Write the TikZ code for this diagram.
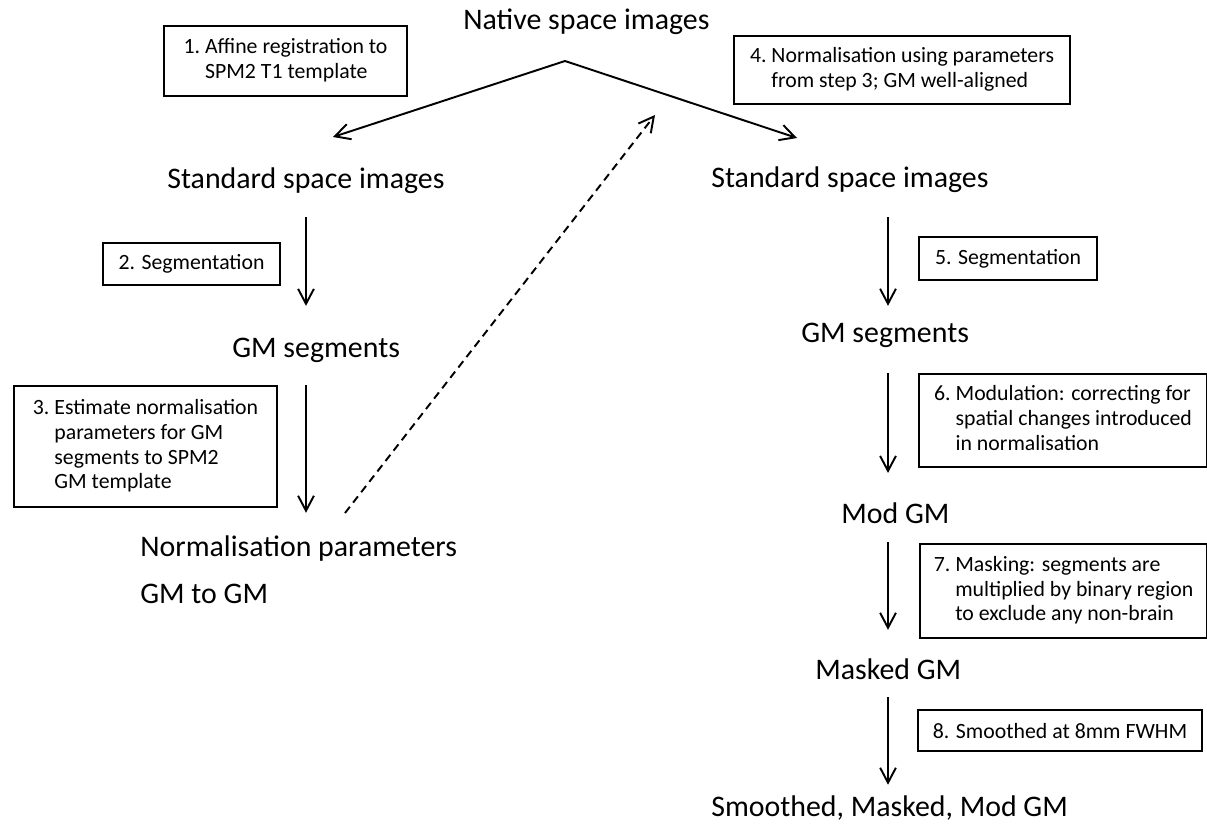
\documentclass[tikz,border=0pt]{standalone}
\usepackage{fontspec}
\setmainfont{Carlito}
\usetikzlibrary{arrows.meta}
\usetikzlibrary{calc}

% numbered step with the following lines hanging under the first word
\newcommand{\stepno}[2]{#1~\begin{tabular}[t]{@{}l@{}}#2\end{tabular}}

\tikzset{
  stepbox/.style={draw, line width=1.2pt, inner sep=0pt, anchor=north west,
    font=\fontsize{12.4}{14.2}\selectfont},
  stage/.style={inner sep=0pt, anchor=base west, text height=12pt, text depth=4pt,
    font=\fontsize{17}{27}\selectfont},
  flow/.style={line width=1.1pt, -{Straight Barb[length=8.5pt,width=9pt]}},
}

\begin{document}
\begin{tikzpicture}[x=0.02cm, y=-0.02cm]
\useasboundingbox (0,0) rectangle (1207,828);

% stages
\node[stage] (native) at (463,30) {Native space images};
\node[stage] (lstd) at (167,188) {Standard space images};
\node[stage] (lgm) at (232,357) {GM segments};
\node[stage] (norm) at (140,556) {\begin{tabular}[t]{@{}l@{}}Normalisation parameters\\GM to GM\end{tabular}};
\node[stage] (rstd) at (711,187) {Standard space images};
\node[stage] (rgm) at (801,342) {GM segments};
\node[stage] (mod) at (841,523) {Mod GM};
\node[stage] (masked) at (815,679) {Masked GM};
\node[stage] (smooth) at (711,816) {Smoothed, Masked, Mod GM};

% processing steps
\node[stepbox, minimum width=4.86cm, minimum height=1.40cm] (s1) at (163,25)
  {\stepno{1.}{Affine registration to\\SPM2 T1 template}};
\node[stepbox, minimum width=3.54cm, minimum height=0.84cm] (s2) at (102,242)
  {2. Segmentation};
\node[stepbox, minimum width=5.26cm, minimum height=2.42cm] (s3) at (13,385)
  {\stepno{3.}{Estimate normalisation\\parameters for GM\\segments to SPM2\\GM template}};
\node[stepbox, minimum width=6.72cm, minimum height=1.36cm] (s4) at (733,35)
  {\stepno{4.}{Normalisation using parameters\\from step 3; GM well-aligned}};
\node[stepbox, minimum width=3.56cm, minimum height=0.86cm] (s5) at (918,236)
  {5. Segmentation};
\node[stepbox, minimum width=5.76cm, minimum height=1.86cm] (s6) at (918,373)
  {\stepno{6.}{Modulation: correcting for\\spatial changes introduced\\in normalisation}};
\node[stepbox, minimum width=5.74cm, minimum height=1.88cm] (s7) at (919,543)
  {\stepno{7.}{Masking: segments are\\multiplied by binary region\\to exclude any non-brain}};
\node[stepbox, minimum width=5.68cm, minimum height=0.82cm] (s8) at (917,709)
  {8. Smoothed at 8mm FWHM};

% split from the native images and the way back
\coordinate (apex) at (565,61);
\coordinate (ltip) at (333,137);
\coordinate (rtip) at (797,138);
\coordinate (dashfoot) at (345,513);
\coordinate (dashtip) at (655,115);
\draw[flow] (apex) -- (ltip);
\draw[flow] (apex) -- (rtip);
\draw[flow, dash pattern=on 4.5pt off 3pt] (dashfoot) -- (dashtip);

% the two columns
\coordinate (lcol) at (306,0);
\coordinate (rcol) at (888,0);
\foreach \from/\to/\s/\e in {lstd/lgm/12.4/16.9, lgm/norm/11.9/12.4} {
  \draw[flow, shorten <=\s pt, shorten >=\e pt] (\from.south -| lcol) -- (\to.north -| lcol);
}
\foreach \from/\to/\s/\e in {rstd/rgm/13/8.4, rgm/mod/13.6/16.3, mod/masked/6.8/15.8, masked/smooth/6.2/5.6} {
  \draw[flow, shorten <=\s pt, shorten >=\e pt] (\from.south -| rcol) -- (\to.north -| rcol);
}
\end{tikzpicture}
\end{document}
